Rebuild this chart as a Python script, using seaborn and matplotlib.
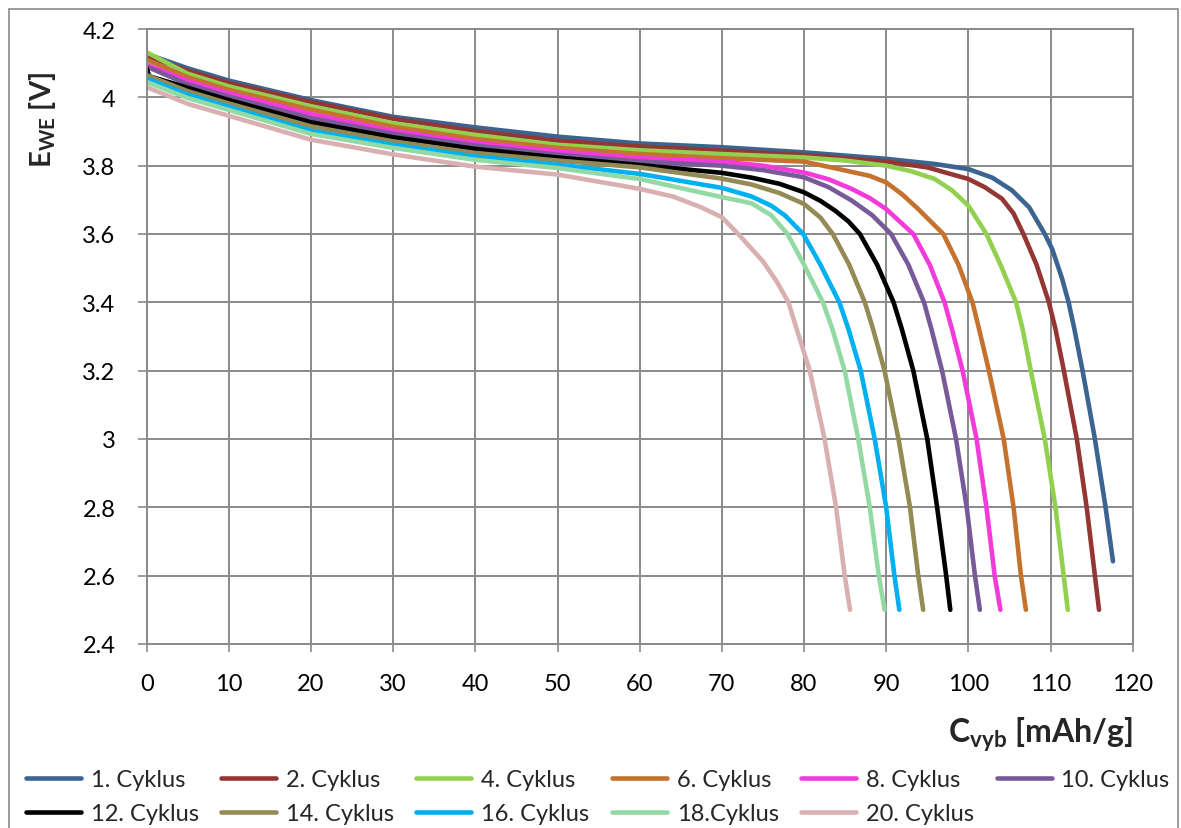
import matplotlib
matplotlib.use("Agg")
import pandas as pd
import seaborn as sns
import matplotlib.pyplot as plt
from matplotlib.patches import Rectangle
from matplotlib.ticker import MultipleLocator, FuncFormatter

# values (capacity mAh/g, potential V)
cycles = ["1. Cyklus", "2. Cyklus", "4. Cyklus", "6. Cyklus", "8. Cyklus", "10. Cyklus",
          "12. Cyklus", "14. Cyklus", "16. Cyklus", "18.Cyklus", "20. Cyklus"]
colors = ["#3B6491", "#943634", "#92D050", "#C5722F", "#F23BDA", "#785A98",
          "#000000", "#948A54", "#00B0F0", "#93D9A4", "#D9B0B0"]

c1_x = [0, 5, 10, 20, 30, 40, 50, 60, 70, 80, 90, 95.9, 100, 102.9, 105.3, 107.4, 109.3, 110.2,
        111.4, 112.2, 112.9, 113.9, 115.4, 116.7, 117.6]
c1_v = [4.127, 4.085, 4.049, 3.992, 3.943, 3.912, 3.885, 3.865, 3.854, 3.839, 3.820, 3.805, 3.790,
        3.765, 3.728, 3.678, 3.60, 3.556, 3.47, 3.40, 3.322, 3.20, 3.00, 2.80, 2.642]

c2_x = [0, 5, 10, 20, 30, 40, 50, 60, 70, 80, 90, 95, 100, 102, 104.1, 105.5, 106.7, 108.3,
        109.8, 110.6, 111.5, 113.2, 114.4, 115.4, 115.9]
c2_v = [4.120, 4.078, 4.042, 3.986, 3.937, 3.901, 3.873, 3.856, 3.844, 3.831, 3.812, 3.795, 3.761,
        3.737, 3.703, 3.66, 3.60, 3.51, 3.40, 3.322, 3.215, 3.00, 2.80, 2.60, 2.50]

c4_x = [0, 5, 10, 20, 30, 40, 50, 60, 70, 80, 85, 90, 93, 95.9, 98, 100, 102.2, 104, 105.8,
        106.6, 107.6, 109.3, 110.6, 111.6, 112.1]
c4_v = [4.132, 4.069, 4.032, 3.974, 3.924, 3.890, 3.861, 3.845, 3.834, 3.824, 3.815, 3.800, 3.784,
        3.761, 3.728, 3.683, 3.60, 3.505, 3.40, 3.322, 3.20, 3.00, 2.80, 2.60, 2.50]

c6_x = [0, 5, 10, 20, 30, 40, 50, 60, 70, 80, 85, 88, 90, 92, 93.9, 96.95, 98.8, 100.5, 101.3,
        102.5, 104.3, 105.5, 106.4, 107.0]
c6_v = [4.110, 4.059, 4.022, 3.964, 3.914, 3.878, 3.852, 3.834, 3.822, 3.812, 3.786, 3.770, 3.751,
        3.715, 3.673, 3.60, 3.51, 3.40, 3.322, 3.20, 3.00, 2.80, 2.60, 2.50]

c8_x = [0, 5, 10, 20, 30, 40, 50, 60, 70, 75, 80, 83, 85.8, 88, 90, 93.3, 95.3, 97.1, 98.0,
        99.3, 101.0, 102.2, 103.2, 103.9]
c8_v = [4.095, 4.048, 4.012, 3.951, 3.902, 3.867, 3.842, 3.822, 3.812, 3.800, 3.780, 3.760, 3.732,
        3.705, 3.673, 3.60, 3.51, 3.40, 3.322, 3.20, 3.00, 2.80, 2.60, 2.50]

c10_x = [0, 5, 10, 20, 30, 40, 50, 60, 70, 75, 80, 83, 85.8, 88.3, 90.6, 92.7, 94.6, 95.5, 96.8,
         98.5, 99.8, 100.8, 101.4]
c10_v = [4.090, 4.038, 4.002, 3.939, 3.893, 3.859, 3.832, 3.812, 3.800, 3.787, 3.766, 3.737, 3.698,
         3.655, 3.60, 3.51, 3.40, 3.322, 3.20, 3.00, 2.80, 2.60, 2.50]

c12_x = [0, 0.3, 5, 10, 20, 30, 40, 50, 60, 70, 73.6, 77, 80, 82, 83.8, 85.4, 86.8, 88.9, 90.9,
         91.9, 93.3, 95.0, 96.2, 97.3, 97.8]
c12_v = [4.085, 4.062, 4.028, 3.992, 3.927, 3.883, 3.849, 3.824, 3.802, 3.779, 3.765, 3.747, 3.722,
         3.697, 3.668, 3.637, 3.60, 3.51, 3.40, 3.322, 3.20, 3.00, 2.80, 2.60, 2.50]

c14_x = [0, 5, 10, 20, 30, 40, 50, 60, 70, 73.6, 77, 80, 82, 83.5, 85.5, 87.4, 88.4, 89.8, 91.5,
         92.9, 93.9, 94.5]
c14_v = [4.065, 4.018, 3.982, 3.915, 3.871, 3.837, 3.815, 3.795, 3.762, 3.745, 3.720, 3.688, 3.648,
         3.60, 3.51, 3.40, 3.322, 3.20, 3.00, 2.80, 2.60, 2.50]

c16_x = [0, 5, 10, 20, 30, 40, 50, 60, 70, 73.6, 76, 77.7, 79.9, 82, 84.3, 85.4, 86.9, 88.6,
         90.0, 91.0, 91.6]
c16_v = [4.055, 4.008, 3.972, 3.902, 3.861, 3.827, 3.803, 3.776, 3.735, 3.710, 3.683, 3.654, 3.60,
         3.51, 3.40, 3.322, 3.20, 3.00, 2.80, 2.60, 2.50]

c18_x = [0, 5, 10, 20, 30, 40, 50, 60, 70, 73.6, 76, 78.0, 80, 82.3, 83.45, 84.95, 86.6, 88.0,
         89.1, 89.8]
c18_v = [4.045, 3.998, 3.963, 3.893, 3.852, 3.817, 3.793, 3.761, 3.708, 3.690, 3.655, 3.60, 3.51,
         3.40, 3.322, 3.20, 3.00, 2.80, 2.60, 2.50]

c20_x = [0, 5, 10, 20, 30, 40, 50, 60, 64, 67.5, 70, 72, 75, 76.7, 78.1, 79.1, 80.7, 82.5, 83.9,
         84.95, 85.6]
c20_v = [4.030, 3.981, 3.946, 3.876, 3.833, 3.797, 3.774, 3.732, 3.710, 3.678, 3.649, 3.60, 3.52,
         3.46, 3.40, 3.322, 3.20, 3.00, 2.80, 2.60, 2.50]

xs = [c1_x, c2_x, c4_x, c6_x, c8_x, c10_x, c12_x, c14_x, c16_x, c18_x, c20_x]
vs = [c1_v, c2_v, c4_v, c6_v, c8_v, c10_v, c12_v, c14_v, c16_v, c18_v, c20_v]

frames = []
for name, x, v in zip(cycles, xs, vs):
    frames.append(pd.DataFrame({"C": x, "E": v, "cyklus": name}))
df = pd.concat(frames, ignore_index=True)

sns.set_style("white")
plt.rcParams["font.family"] = ["Lato", "DejaVu Sans"]
plt.rcParams["mathtext.fontset"] = "custom"
plt.rcParams["mathtext.rm"] = "Lato"
plt.rcParams["mathtext.bf"] = "Lato:bold"
plt.rcParams["mathtext.it"] = "Lato:italic"

grey = "#8a8a8a"
fig = plt.figure(figsize=(11.81, 8.29), dpi=100)
ax = fig.add_axes([0.1242, 0.2220, 0.9591 - 0.1242, 0.9638 - 0.2220])

sns.lineplot(data=df, x="C", y="E", hue="cyklus", hue_order=cycles, palette=colors,
             estimator=None, sort=False, linewidth=3.3, legend=False, ax=ax,
             solid_capstyle="round", solid_joinstyle="round")

ax.set_xlim(0, 120)
ax.set_ylim(2.4, 4.2)
ax.xaxis.set_major_locator(MultipleLocator(10))
ax.yaxis.set_major_locator(MultipleLocator(0.2))
ax.yaxis.set_major_formatter(FuncFormatter(lambda v, p: f"{v:g}"))
ax.grid(True, color=grey, linewidth=1.4)
ax.set_axisbelow(True)
for s in ax.spines.values():
    s.set_color(grey)
    s.set_linewidth(1.4)
ax.tick_params(axis="y", direction="out", length=6.5, width=1.2, color=grey,
               pad=16, labelsize=17, labelcolor="black", left=True)
ax.tick_params(axis="x", direction="out", length=6, width=1.2, color=grey,
               pad=15, labelsize=17, labelcolor="black", bottom=True)

ax.set_xlabel(r"$\mathbf{C_{vyb}}$ [mAh/g]", fontsize=23, fontweight="bold",
              ha="right", va="center")
ax.xaxis.set_label_coords(1.0, -0.146)
ax.set_ylabel(r"$\mathbf{E_{WE}}$ [V]", fontsize=21, fontweight="bold",
              ha="center", va="center")
ax.yaxis.set_label_coords(-0.106, 0.854)

# Excel-style legend: two rows, filled row by row
lines = ax.get_lines()
order = [0, 6, 1, 7, 2, 8, 3, 9, 4, 10, 5]
fig.legend([lines[i] for i in order], [cycles[i] for i in order],
           loc="center", bbox_to_anchor=(0.506, 0.038), ncol=6, frameon=False,
           fontsize=17, handlelength=2.33, handletextpad=0.42, columnspacing=0.95,
           labelspacing=0.55, borderpad=0.2)

fig.patches.append(Rectangle((9 / 1181, -0.05), 1169 / 1181, 1.05 - 10 / 829,
                             transform=fig.transFigure, fill=False,
                             edgecolor=grey, linewidth=1.2))

fig.savefig("out.png", dpi=100)
